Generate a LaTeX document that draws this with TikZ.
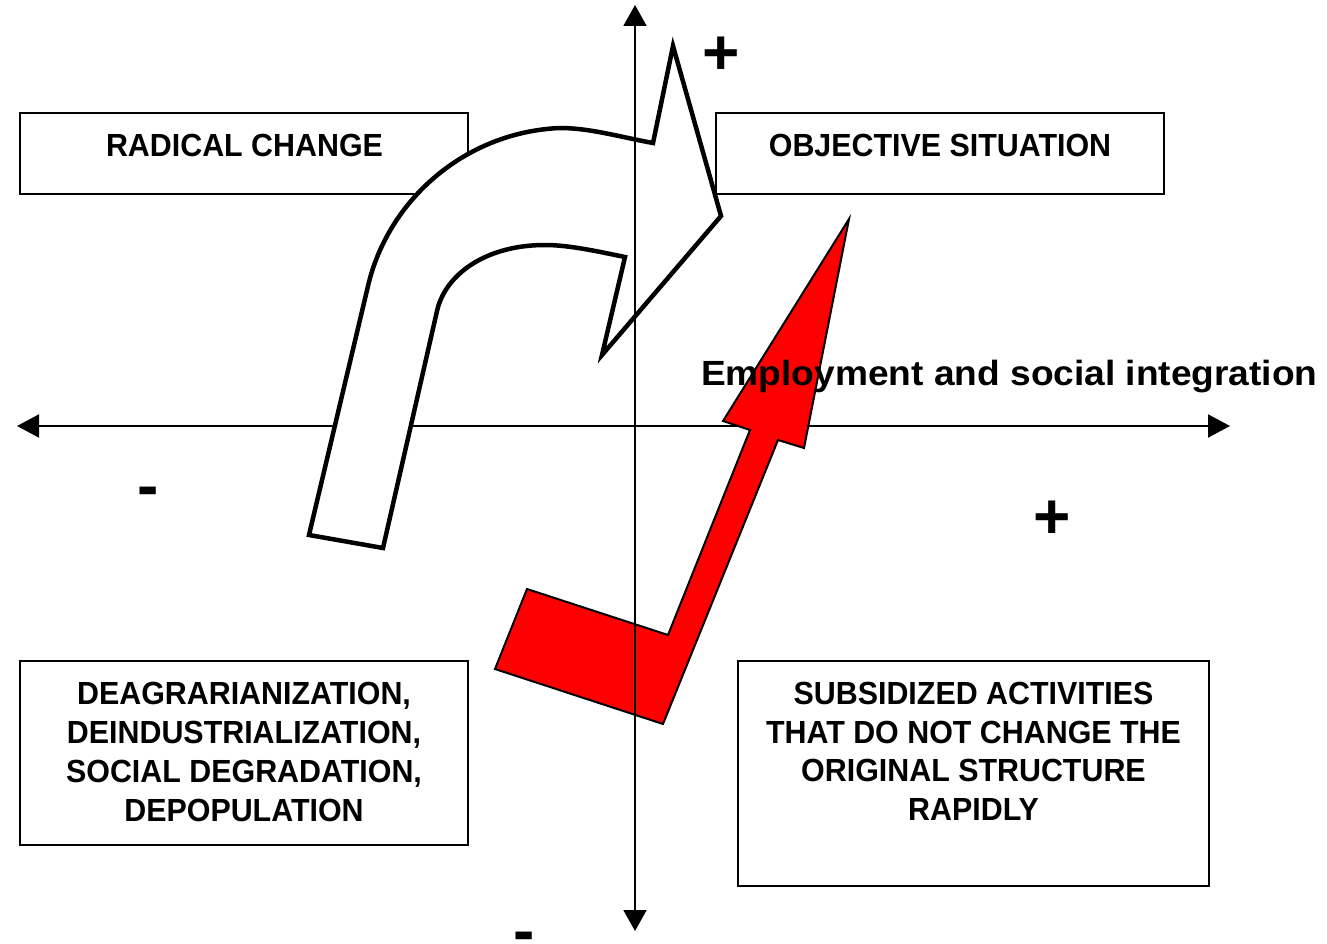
\documentclass[tikz,border=0pt]{standalone}
\usepackage{fontspec}
\setmainfont{Liberation Sans}
\newfontfamily\boxfont{Liberation Sans}[FakeStretch=0.95]
\newfontfamily\empfont{Liberation Sans}[FakeStretch=1.06]
\usetikzlibrary{arrows.meta}
\tikzset{
  boxnode/.style={draw, line width=1.5pt, inner sep=0pt, fill=none},
  boxtext/.style={anchor=base, inner sep=0pt, align=center, font=\boxfont\bfseries\fontsize{32}{38.7}\selectfont},
  signtext/.style={anchor=base, inner sep=0pt, font=\bfseries\fontsize{64}{64}\selectfont},
  whitearrow/.style={draw, line width=4.5pt, fill=white, miter limit=10},
  redarrow/.style={draw, line width=2pt, fill=red},
}
\begin{document}
\begin{tikzpicture}[x=1pt,y=-1pt]
\useasboundingbox (0,0) rectangle (1327,944);
% horizontal axis (two-headed)
\coordinate (hl) at (17,426);
\coordinate (hr) at (1230,426);
\draw[line width=2pt, {Triangle[length=22pt,width=23pt]}-{Triangle[length=22pt,width=23pt]}] (hl) -- (hr);
% boxes
\node[boxnode, minimum width=448pt, minimum height=81pt] (radical) at (244,153.5) {};
\node[boxnode, minimum width=448pt, minimum height=81pt] (objective) at (940,153.5) {};
\node[boxnode, minimum width=448pt, minimum height=184pt] (deagr) at (244,753) {};
\node[boxnode, minimum width=471pt, minimum height=225pt] (subs) at (973.5,773.5) {};
% white curved arrow
\path[whitearrow] (309,535) -- (368,286) .. controls (388,200) and (465,132) .. (560,128)
  .. controls (590,128) and (620,137) .. (653,143) -- (673,46) -- (721,216) -- (602,355)
  -- (625,257) .. controls (600,252) and (570,245) .. (545,245)
  .. controls (485,245) and (445,275) .. (437,311) -- (383,548) -- cycle;
% red arrow
\path[redarrow] (849,219) -- (804,448) -- (778,440) -- (663,724) -- (495,669) -- (527,589)
  -- (668,635) -- (750,430) -- (723,421) -- cycle;
% vertical axis (two-headed)
\coordinate (vt) at (635,5);
\coordinate (vb) at (635,931);
\draw[line width=2pt, {Triangle[length=21pt,width=23pt]}-{Triangle[length=21pt,width=23pt]}] (vb) -- (vt);
% texts
\node[boxtext] (tradical) at (244.5,157) {RADICAL CHANGE};
\node[boxtext] (tobjective) at (940,157) {OBJECTIVE SITUATION};
\node[boxtext] (tdeagr) at (244,821) {DEAGRARIANIZATION,\\DEINDUSTRIALIZATION,\\SOCIAL DEGRADATION,\\DEPOPULATION};
\node[boxtext] (tsubs) at (973.5,820.5) {SUBSIDIZED ACTIVITIES\\THAT DO NOT CHANGE THE\\ORIGINAL STRUCTURE\\RAPIDLY};
\node[anchor=base west, inner sep=0pt, font=\empfont\bfseries\fontsize{35}{35}\selectfont] (temp) at (701,385) {Employment and social integration};
\node[signtext] (plustop) at (721,75) {+};
\node[signtext] (plusright) at (1052,538) {+};
\node[signtext] (minusleft) at (148,507) {-};
\node[signtext] (minusbottom) at (524.5,952) {-};
\end{tikzpicture}
\end{document}
